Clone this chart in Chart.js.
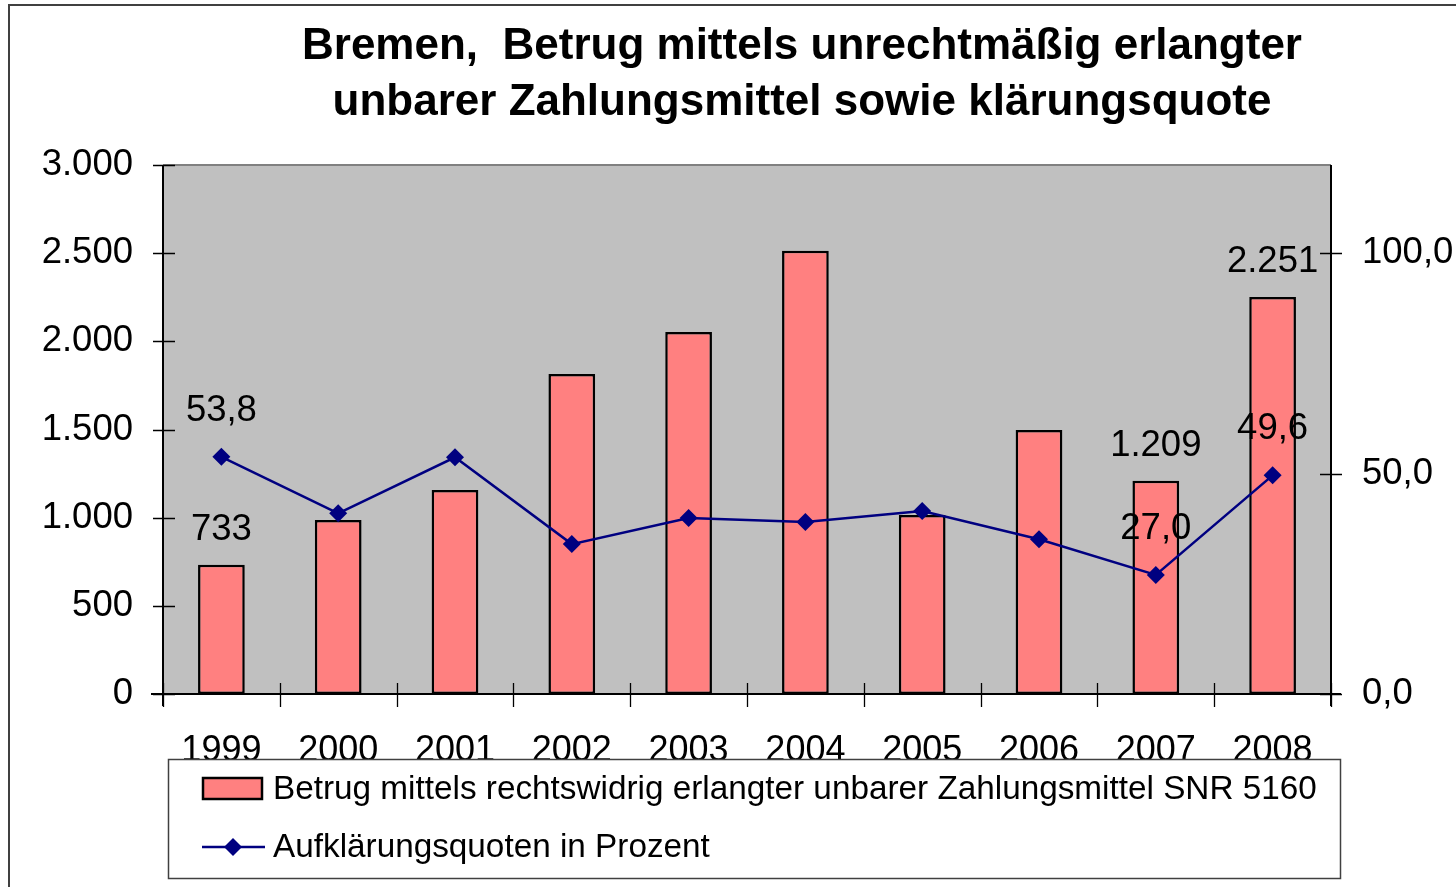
<!DOCTYPE html>
<html>
<head>
<meta charset="utf-8">
<script src="https://cdn.jsdelivr.net/npm/chart.js@4.4.0/dist/chart.umd.min.js"></script>
<style>
  html, body { margin: 0; padding: 0; background: #fff; }
  #wrap { width: 1456px; height: 887px; position: relative; }
</style>
</head>
<body>
<div id="wrap"><canvas id="c" width="1456" height="887"></canvas></div>
<script>
// data
var years = ['1999','2000','2001','2002','2003','2004','2005','2006','2007','2008'];
var betrag = [733, 987, 1157, 1815, 2053, 2513, 1015, 1497, 1209, 2251];
var quote = [53.8, 41.0, 53.7, 34.0, 39.9, 39.0, 41.5, 35.1, 27.0, 49.6];
// which points carry a value label
var barLabelIdx = [0, 8, 9];
var lineLabelIdx = [0, 8, 9];
var titleLines = ['Bremen,  Betrug mittels unrechtmäßig erlangter', 'unbarer Zahlungsmittel sowie klärungsquote'];
var legendTexts = ['Betrug mittels rechtswidrig erlangter unbarer Zahlungsmittel SNR 5160', 'Aufklärungsquoten in Prozent'];

var FONT = '"Liberation Sans", Arial, sans-serif';
var BAR_COL = '#ff8080';
var LINE_COL = '#000080';

function dotThousands(v) {
    var s = String(Math.round(v));
    return s.replace(/\B(?=(\d{3})+(?!\d))/g, '.');
}
function commaOne(v) {
    return v.toFixed(1).replace('.', ',');
}

var deco = {
    id: 'deco',
    beforeDraw: function (chart) {
        var ctx = chart.ctx, a = chart.chartArea;
        ctx.save();
        ctx.fillStyle = '#fff';
        ctx.fillRect(0, 0, chart.width, chart.height);
        // outer frame
        ctx.strokeStyle = '#404040';
        ctx.lineWidth = 2;
        ctx.strokeRect(9, 5, chart.width + 20, chart.height + 20);
        // plot background
        ctx.fillStyle = '#c0c0c0';
        ctx.fillRect(a.left, a.top, a.right - a.left, a.bottom - a.top);
        ctx.strokeStyle = '#808080';
        ctx.lineWidth = 2;
        ctx.beginPath();
        ctx.moveTo(a.left, a.top);
        ctx.lineTo(a.right, a.top);
        ctx.stroke();
        // title
        ctx.fillStyle = '#000';
        ctx.font = 'bold 44px ' + FONT;
        ctx.textAlign = 'center';
        ctx.textBaseline = 'middle';
        ctx.fillText(titleLines[0], 802, 47);
        ctx.fillText(titleLines[1], 802, 103);
        ctx.restore();
    },
    afterDatasetsDraw: function (chart) {
        var ctx = chart.ctx, a = chart.chartArea;
        var x = chart.scales.x, y = chart.scales.y, y1 = chart.scales.y1;
        ctx.save();
        // axes lines
        ctx.strokeStyle = '#000';
        ctx.lineWidth = 2;
        ctx.beginPath();
        ctx.moveTo(a.left, a.top);
        ctx.lineTo(a.left, a.bottom + 12);
        ctx.moveTo(a.left - 12, a.bottom);
        ctx.lineTo(a.right + 10, a.bottom);
        ctx.moveTo(a.right, a.top);
        ctx.lineTo(a.right, a.bottom + 12);
        ctx.stroke();
        // tick marks
        ctx.lineWidth = 1.3;
        ctx.beginPath();
        y.ticks.forEach(function (t) {
            var py = Math.round(y.getPixelForValue(t.value)) + 0.5;
            ctx.moveTo(a.left - 10, py);
            ctx.lineTo(a.left + 12, py);
        });
        y1.ticks.forEach(function (t) {
            var py = Math.round(y1.getPixelForValue(t.value)) + 0.5;
            ctx.moveTo(a.right - 11, py);
            ctx.lineTo(a.right + 11, py);
        });
        for (var i = 0; i <= years.length; i++) {
            var px = Math.round(x.getPixelForValue(i - 0.5)) + 0.5;
            ctx.moveTo(px, a.bottom - 11);
            ctx.lineTo(px, a.bottom + 13);
        }
        ctx.stroke();
        // value labels
        ctx.fillStyle = '#000';
        ctx.font = '36.5px ' + FONT;
        ctx.textAlign = 'center';
        ctx.textBaseline = 'middle';
        var barMeta = chart.getDatasetMeta(0), lineMeta = chart.getDatasetMeta(1);
        barLabelIdx.forEach(function (i) {
            var el = barMeta.data[i];
            ctx.fillText(dotThousands(betrag[i]), el.x, el.y - 35);
        });
        lineLabelIdx.forEach(function (i) {
            var el = lineMeta.data[i];
            ctx.fillText(commaOne(quote[i]), el.x, el.y - 46);
        });
        ctx.restore();
    },
    afterDraw: function (chart) {
        var ctx = chart.ctx;
        ctx.save();
        // legend box drawn over the bottom of the year labels
        ctx.fillStyle = '#fff';
        ctx.fillRect(168, 759, 1172, 119);
        ctx.strokeStyle = '#404040';
        ctx.lineWidth = 1.5;
        ctx.strokeRect(168.5, 759.5, 1172, 119);
        ctx.fillStyle = BAR_COL;
        ctx.fillRect(203, 778, 59, 21);
        ctx.strokeStyle = '#000';
        ctx.lineWidth = 2.5;
        ctx.strokeRect(203, 778, 59, 21);
        ctx.strokeStyle = LINE_COL;
        ctx.lineWidth = 2.5;
        ctx.beginPath();
        ctx.moveTo(202, 847);
        ctx.lineTo(265, 847);
        ctx.stroke();
        ctx.fillStyle = LINE_COL;
        ctx.beginPath();
        ctx.moveTo(233, 838); ctx.lineTo(242, 847); ctx.lineTo(233, 856); ctx.lineTo(224, 847);
        ctx.closePath();
        ctx.fill();
        ctx.fillStyle = '#000';
        ctx.font = '33.3px ' + FONT;
        ctx.textAlign = 'left';
        ctx.textBaseline = 'middle';
        ctx.fillText(legendTexts[0], 273, 790);
        ctx.fillText(legendTexts[1], 273, 848);
        ctx.restore();
    }
};

new Chart(document.getElementById('c'), {
    type: 'bar',
    data: {
        labels: years,
        datasets: [{
            type: 'bar',
            label: legendTexts[0],
            data: betrag,
            backgroundColor: BAR_COL,
            borderColor: '#000',
            borderWidth: 2.5,
            borderSkipped: false,
            categoryPercentage: 1,
            barPercentage: 0.4,
            yAxisID: 'y',
            order: 2
        }, {
            type: 'line',
            label: legendTexts[1],
            data: quote,
            borderColor: LINE_COL,
            backgroundColor: LINE_COL,
            borderWidth: 2.5,
            pointStyle: 'rectRot',
            pointRadius: 9,
            pointBorderWidth: 0,
            tension: 0,
            yAxisID: 'y1',
            order: 1
        }]
    },
    options: {
        responsive: false,
        animation: false,
        devicePixelRatio: 1,
        layout: { padding: { top: 165, left: 0, right: 0, bottom: 0 } },
        plugins: { legend: { display: false }, title: { display: false }, tooltip: { enabled: false } },
        scales: {
            x: {
                offset: true,
                grid: { display: false, drawTicks: false },
                border: { display: false },
                ticks: { color: '#000', font: { family: FONT, size: 36 }, padding: 35, maxRotation: 0 },
                afterFit: function (s) { s.height = 193; }
            },
            y: {
                position: 'left',
                min: 0, max: 3000,
                grid: { display: false, drawTicks: false },
                border: { display: false },
                ticks: {
                    stepSize: 500, color: '#000', padding: 30,
                    font: { family: FONT, size: 36.5 },
                    callback: function (v) { return dotThousands(v); }
                },
                afterFit: function (s) { s.width = 163; }
            },
            y1: {
                position: 'right',
                min: 0, max: 120,
                grid: { display: false, drawTicks: false },
                border: { display: false },
                afterBuildTicks: function (s) {
                    s.ticks = s.ticks.filter(function (t) { return t.value % 50 === 0; });
                },
                ticks: {
                    stepSize: 50, color: '#000', padding: 31,
                    font: { family: FONT, size: 36.5 },
                    callback: function (v) { return commaOne(v); }
                },
                afterFit: function (s) { s.width = 125; }
            }
        }
    },
    plugins: [deco]
});
</script>
</body>
</html>
